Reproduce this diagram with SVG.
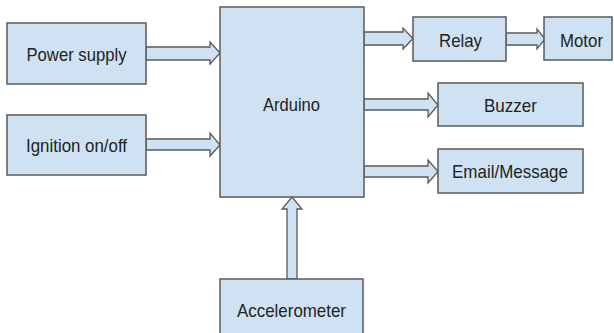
<svg xmlns="http://www.w3.org/2000/svg" width="614" height="333" viewBox="0 0 614 333">
<style>
.box{fill:#cfe2f3;stroke:#595959;stroke-width:1.5}
.arr{fill:#cfe2f3;stroke:#595959;stroke-width:1.3;stroke-linejoin:miter}
text{font-family:"Liberation Sans",Arial,sans-serif;font-size:18.5px;fill:#222;text-anchor:middle}
</style>
<rect width="614" height="333" fill="#ffffff"/>
<g id="connectors">
<polygon class="arr" points="146,47 210,47 210,42 220,53 210,64 210,60 146,60"/>
<polygon class="arr" points="146,139 210,139 210,133 220,145 210,156 210,150 146,150"/>
<polygon class="arr" points="364,32 403,32 403,28 413,38.5 403,49 403,45 364,45"/>
<polygon class="arr" points="506,33 537,33 537,29 545,39 537,49 537,45 506,45"/>
<polygon class="arr" points="364,99 428,99 428,93 438,105 428,117 428,110 364,110"/>
<polygon class="arr" points="364,166 428,166 428,160 438,171.5 428,183 428,177 364,177"/>
<polygon class="arr" points="287,279 287,209 282,209 292,197 302,209 297,209 297,279"/>
</g>
<g id="power-supply"><rect class="box" x="7" y="23" width="139" height="61"/><text x="76.5" y="60.7" textLength="100" lengthAdjust="spacingAndGlyphs">Power supply</text></g>
<g id="ignition"><rect class="box" x="7" y="115" width="139" height="60"/><text x="76.5" y="152" textLength="101" lengthAdjust="spacingAndGlyphs">Ignition on/off</text></g>
<g id="arduino"><rect class="box" x="220" y="7" width="144" height="190"/><text x="291.5" y="111" textLength="57" lengthAdjust="spacingAndGlyphs">Arduino</text></g>
<g id="relay"><rect class="box" x="413" y="17" width="93" height="44"/><text x="460.5" y="46.5" textLength="43" lengthAdjust="spacingAndGlyphs">Relay</text></g>
<g id="motor"><rect class="box" x="544" y="17" width="68" height="43"/><text x="581.5" y="46.5" textLength="43" lengthAdjust="spacingAndGlyphs">Motor</text></g>
<g id="buzzer"><rect class="box" x="438" y="83" width="145" height="43"/><text x="510.5" y="111.5" textLength="53" lengthAdjust="spacingAndGlyphs">Buzzer</text></g>
<g id="email"><rect class="box" x="438" y="149" width="145" height="44"/><text x="510" y="178" textLength="116" lengthAdjust="spacingAndGlyphs">Email/Message</text></g>
<g id="accelerometer"><rect class="box" x="220" y="279" width="143" height="60"/><text x="291.5" y="316.7" textLength="109" lengthAdjust="spacingAndGlyphs">Accelerometer</text></g>
</svg>
